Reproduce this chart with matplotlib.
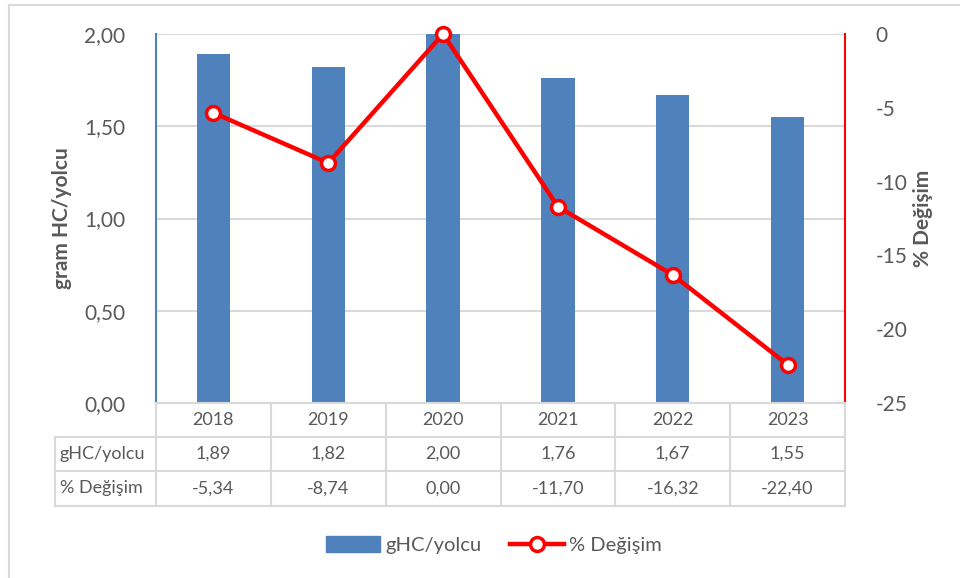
import matplotlib
matplotlib.use("Agg")
import matplotlib.pyplot as plt
from matplotlib.lines import Line2D
from matplotlib.patches import Patch

plt.rcParams['font.family'] = ['Lato', 'DejaVu Sans']

years = ["2018", "2019", "2020", "2021", "2022", "2023"]
ghc = [1.89, 1.82, 2.00, 1.76, 1.67, 1.55]
degisim = [-5.34, -8.74, 0.00, -11.70, -16.32, -22.40]

row_labels = ["gHC/yolcu", "% Değişim"]
left_ticks = [0.0, 0.5, 1.0, 1.5, 2.0]
right_ticks = [0, -5, -10, -15, -20, -25]

BLUE = "#4F81BD"
RED = "#FF0000"
TXT = "#595959"
GRID = "#D9D9D9"

W, H = 960, 578


def fx(px):
    return px / W


def fy(py):
    return 1 - py / H


def tr(v):
    return f"{v:.2f}".replace(".", ",")


fig = plt.figure(figsize=(9.6, 5.78), dpi=100)

# chart area border (only top and left edges fall inside the image)
fig.add_artist(Line2D([fx(9), 1], [fy(5), fy(5)], color=GRID, lw=1.5))
fig.add_artist(Line2D([fx(9), fx(9)], [fy(5), 0], color=GRID, lw=1.5))

x0, x1, ytop, ybot = 156, 845, 34, 403
ax = fig.add_axes([fx(x0), fy(ybot), fx(x1) - fx(x0), fy(ytop) - fy(ybot)])
ax2 = ax.twinx()

pos = list(range(len(years)))
ax.bar(pos, ghc, width=0.29, color=BLUE, zorder=2)
ax.set_xlim(-0.5, len(years) - 0.5)
ax.set_ylim(0, 2.0)
ax.set_yticks(left_ticks)
ax.set_yticklabels([tr(t) for t in left_ticks])
ax.set_xticks([])
ax.grid(axis='y', color=GRID, lw=1.5, zorder=0)
ax.set_axisbelow(True)
ax.tick_params(axis='y', length=0, pad=22, labelsize=15, labelcolor=TXT)
for s in ['top', 'right', 'bottom']:
    ax.spines[s].set_visible(False)
ax.spines['left'].set_color(BLUE)
ax.spines['left'].set_linewidth(1.5)
ax.set_ylabel("gram HC/yolcu", fontsize=15, fontweight='bold', color=TXT, labelpad=9)

ax2.plot(pos, degisim, color=RED, lw=3.2, marker='o', ms=10,
         mfc='white', mec=RED, mew=2.5, zorder=3, clip_on=False)
ax2.set_ylim(-25, 0)
ax2.set_yticks(right_ticks)
ax2.set_yticklabels([str(t) for t in right_ticks])
ax2.tick_params(axis='y', length=0, pad=22, labelsize=15, labelcolor=TXT)
for s in ['top', 'left', 'bottom']:
    ax2.spines[s].set_visible(False)
ax2.spines['right'].set_color(RED)
ax2.spines['right'].set_linewidth(1.5)
ax2.set_ylabel("% Değişim", fontsize=15, fontweight='bold', color=TXT, labelpad=4)

# data table below the plot
rows_y = [403, 437, 471, 506]
tab_left = 55
col_w = (x1 - x0) / len(years)
tl = dict(color=GRID, lw=1.5)
fig.add_artist(Line2D([fx(x0), fx(x1)], [fy(rows_y[0])] * 2, **tl))
for yy in rows_y[1:]:
    fig.add_artist(Line2D([fx(tab_left), fx(x1)], [fy(yy)] * 2, **tl))
fig.add_artist(Line2D([fx(tab_left)] * 2, [fy(rows_y[1]), fy(rows_y[3])], **tl))
for i in range(len(years) + 1):
    xx = x0 + i * col_w
    fig.add_artist(Line2D([fx(xx)] * 2, [fy(rows_y[0]), fy(rows_y[3])], **tl))

table_rows = [years, [tr(v) for v in ghc], [tr(v) for v in degisim]]
for r, vals in enumerate(table_rows):
    yc = (rows_y[r] + rows_y[r + 1]) / 2
    for i, v in enumerate(vals):
        fig.text(fx(x0 + (i + 0.5) * col_w), fy(yc), v, ha='center', va='center',
                 fontsize=13, color=TXT)
for r, lab in enumerate(row_labels):
    yc = (rows_y[r + 1] + rows_y[r + 2]) / 2
    fig.text(fx(tab_left + 5), fy(yc), lab, ha='left', va='center', fontsize=13, color=TXT)

handles = [Patch(color=BLUE, label="gHC/yolcu"),
           Line2D([], [], color=RED, lw=3.2, marker='o', ms=10, mfc='white',
                  mec=RED, mew=2.5, label="% Değişim")]
fig.legend(handles=handles, loc='center', bbox_to_anchor=(fx(494), fy(545)),
           ncol=2, frameon=False, fontsize=14.5, labelcolor=TXT,
           handlelength=2.7, handleheight=0.8, columnspacing=1.4, handletextpad=0.25)

fig.savefig("out.png", dpi=100)
